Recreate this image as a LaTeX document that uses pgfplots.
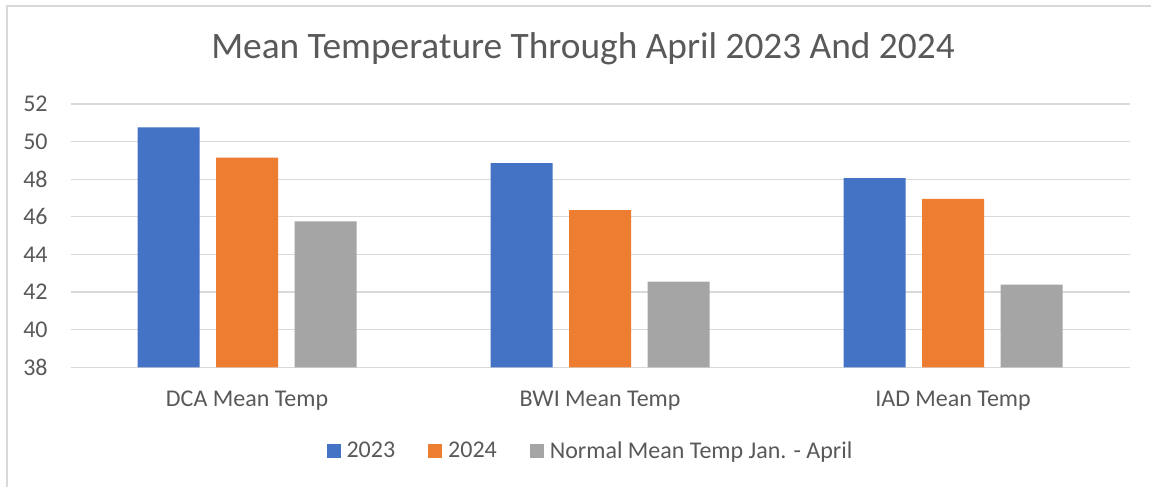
\documentclass[border=0pt]{standalone}
\usepackage{fontspec}
\setmainfont{Carlito}
\usepackage{pgfplots}
\pgfplotsset{compat=1.18}
\definecolor{cBlue}{HTML}{4472C4}
\definecolor{cOrange}{HTML}{ED7D31}
\definecolor{cGray}{HTML}{A5A5A5}
\definecolor{cGrid}{HTML}{D9D9D9}
\definecolor{cText}{HTML}{595959}
\begin{document}
\begin{tikzpicture}
\useasboundingbox (0,0) rectangle (863.25pt,365.25pt);
\fill[white] (0,0) rectangle (863.25pt,365.25pt);
\draw[cGrid, line width=1.5pt] (5.25pt,0) -- (5.25pt,360.75pt) -- (870pt,360.75pt);
\node[anchor=base, font=\fontsize{28pt}{33pt}\selectfont, text=cText] at (437.25pt,321.25pt) {Mean Temperature Through April 2023 And 2024};
\begin{axis}[
  at={(52.9pt,89.8pt)}, anchor=south west,
  scale only axis, width=794.25pt, height=197.5pt,
  ybar=12.4pt, bar width=46.5pt,
  xmin=-0.5, xmax=2.5, ymin=38, ymax=52,
  xtick={0,1,2},
  xticklabels={DCA Mean Temp, BWI Mean Temp, IAD Mean Temp},
  ytick={38,40,...,52},
  axis x line*=bottom, axis y line*=left,
  y axis line style={draw=none},
  x axis line style={draw=cGrid, line width=1pt},
  major tick length=0pt,
  ymajorgrids, grid style={draw=cGrid, line width=0.9pt},
  /pgf/number format/assume math mode=true,
  yticklabel style={font=\fontsize{18pt}{21pt}\selectfont, text=cText, anchor=east, inner sep=0pt, xshift=-17pt},
  xticklabel style={font=\fontsize{18pt}{21pt}\selectfont, text=cText, anchor=base, inner sep=0pt, yshift=-29.5pt},
  legend columns=3,
  legend style={draw=none, at={(0.49,-0.317)}, anchor=center,
    font=\fontsize{18pt}{21pt}\selectfont, text=cText,
    /tikz/every odd column/.append style={column sep=4.5pt},
    /tikz/every even column/.append style={column sep=24.75pt},
    nodes={inner sep=0pt}},
  legend image code/.code={\fill (0pt,-5.25pt) rectangle (10.5pt,5.25pt);},
]
\addplot[draw=none, fill=cBlue] coordinates {(0,50.75) (1,48.85) (2,48.05)};
\addplot[draw=none, fill=cOrange] coordinates {(0,49.15) (1,46.35) (2,46.95)};
\addplot[draw=none, fill=cGray] coordinates {(0,45.75) (1,42.55) (2,42.4)};
\legend{2023, 2024, Normal Mean Temp Jan. - April}
\end{axis}
\end{tikzpicture}
\end{document}
